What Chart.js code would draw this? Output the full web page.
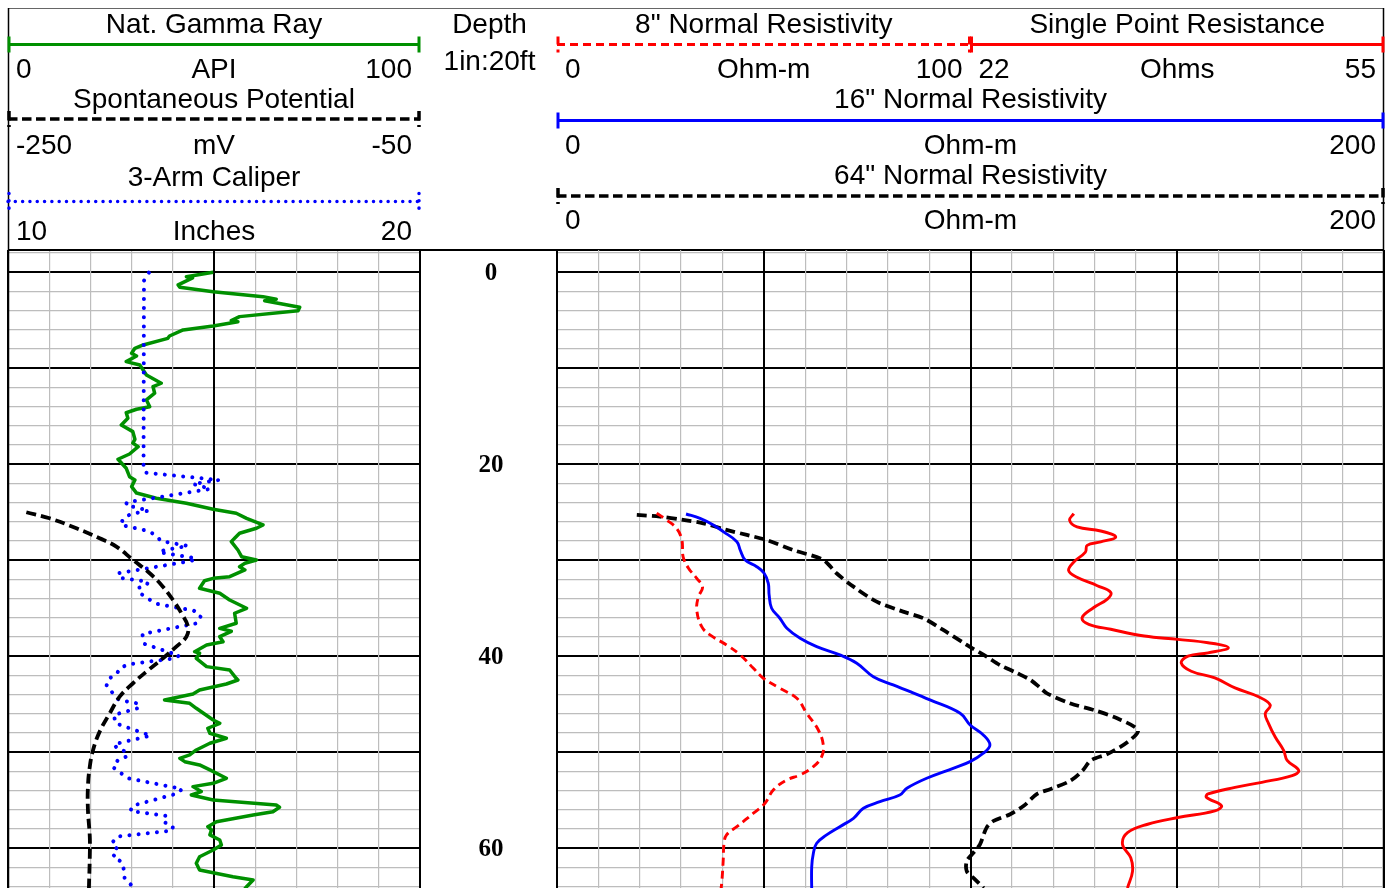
<!DOCTYPE html>
<html>
<head>
<meta charset="utf-8">
<title>Well log</title>
<script src="https://cdn.jsdelivr.net/npm/chart.js@4.4.0/dist/chart.umd.min.js"></script>
<style>
  html, body { margin: 0; padding: 0; background: #fff; }
  #wrap { position: relative; width: 1388px; height: 888px; overflow: hidden; }
  #wrap canvas { position: absolute; left: 0; top: 0; }
</style>
</head>
<body>
<div id="wrap">
  <canvas id="leftTrack" width="1388" height="888"></canvas>
  <canvas id="rightTrack" width="1388" height="888"></canvas>
</div>
<script>
// depth axis (ft)
const depthMin = -2.32;
const depthMax = 64.14;
const depthTicks = [0, 20, 40, 60];

// header scale ranges
const grRange = [0, 100];
const spRange = [-250, -50];
const calRange = [10, 20];
const n8Range = [0, 100];
const sprRange = [22, 55];
const n16Range = [0, 200];
const n64Range = [0, 200];

// Nat. Gamma Ray (API)
const grDepth = [0, 0.46, 0.59, 1.32, 1.56, 2.02, 2.54, 2.81, 2.96, 3.65, 4.0, 4.62, 5.04, 5.15, 5.59, 6.01, 6.64, 6.88,
  7.57, 7.92, 8.44, 8.72, 9.31, 9.66, 10.7, 11.56, 11.92, 12.6, 13.3, 14.0, 14.27, 14.63, 15.2, 15.9, 16.6, 17.4, 17.8,
  18.17, 18.93, 19.48, 20.42, 21.29, 21.64, 22.33, 23.0, 23.54, 24.06, 24.69, 25.1, 25.63, 26.32, 26.67, 27.19, 27.71,
  28.06, 28.93, 29.63, 29.97, 30.31, 30.67, 31.01, 31.71, 31.88, 32.13, 32.92, 33.09, 33.44, 34.14, 35.0, 35.52, 36.56,
  37.1, 37.4, 37.96, 38.48, 38.82, 39.52, 39.69, 40.21, 41.08, 41.43, 42.3, 42.47, 42.89, 43.51, 43.93, 44.55, 44.9,
  45.42, 46.64, 46.98, 47.5, 48.02, 48.54, 49.06, 49.76, 50.28, 50.63, 50.98, 51.32, 51.84, 52.71, 53.23, 53.58, 54.1,
  54.45, 54.97, 55.49, 55.73, 56.19, 56.53, 57.23, 57.75, 58.09, 58.61, 59.14, 59.66, 60.18, 60.88, 61.56, 62.26, 62.96,
  63.3, 64.0, 64.5];
const grApi = [49.8, 43.3, 44.8, 41.3, 41.7, 49.8, 61.9, 65.1, 62.3, 70.8, 70.4, 56.2, 54.2, 55.8, 49.8, 42.5, 39.2, 38.8,
  32.8, 30.8, 30.0, 31.2, 28.7, 32.0, 33.6, 37.2, 35.2, 35.6, 33.6, 34.4, 31.2, 28.7, 29.1, 27.5, 30.3, 30.8, 30.3,
  31.6, 29.5, 26.7, 28.7, 29.5, 30.8, 30.0, 31.2, 36.0, 43.3, 49.8, 55.4, 57.9, 61.9, 60.3, 56.2, 55.0,
  54.2, 55.8, 56.7, 60.3, 57.5, 56.2, 57.5, 53.8, 49.8, 47.7, 46.5, 48.2, 51.4, 53.8, 57.9, 55.0, 55.4,
  51.4, 54.2, 51.4, 52.2, 48.2, 45.3, 46.5, 45.7, 48.2, 53.8, 55.4, 55.8, 53.0, 46.5, 44.9, 38.0, 44.1,
  45.7, 49.8, 51.4, 48.5, 49.0, 53.0, 49.0, 45.7, 44.1, 41.7, 42.9, 46.5, 49.0, 53.0, 49.8, 44.9, 46.9,
  44.5, 49.8, 65.1, 65.9, 64.3, 59.5, 50.6, 48.5, 49.4, 49.0, 51.4, 51.8, 49.8, 46.5, 45.7, 46.5, 54.6,
  59.5, 57.9, 57.0];

// Spontaneous Potential (mV)
const spDepth = [25.0, 25.63, 26.67, 27.71, 28.58, 29.97, 31.35, 32.75, 34.14, 35.52, 36.92, 37.96, 39.0, 40.21, 41.6,
  42.81, 44.21, 45.94, 47.85, 49.76, 51.5, 53.58, 56.01, 58.79, 60.88, 64.0, 64.5];
const spMv = [-241.1, -229.8, -216.8, -205.5, -197.4, -189.3, -181.2, -174.8, -169.9, -165.8, -162.6, -163.4, -168.3,
  -174.8, -182.8, -189.3, -195.8, -200.6, -205.5, -208.7, -210.3, -211.2, -211.2, -210.3, -210.3, -210.7, -210.7];

// 3-Arm Caliper (inches)
const calDepth = [0.04, 0.88, 20.07, 20.88, 21.64, 22.05, 22.57, 23.96, 24.24, 24.83, 25.18, 25.7, 26.32, 26.95, 27.44,
  27.99, 28.51, 28.93, 29.17, 29.79, 30.07, 31.35, 31.84, 32.23, 32.57, 32.89, 33.54, 34.06, 34.55, 35.25, 35.8, 36.56,
  37.68, 38.72, 39.94, 40.21, 40.83, 41.19, 41.88, 42.36, 43.09, 44.55, 44.9, 45.35, 46.11, 46.98, 48.27, 49.17, 49.69,
  49.94, 50.46, 50.8, 51.56, 52.71, 53.82, 54.27, 55.56, 56.11, 56.64, 57.4, 57.81, 58.17, 58.79, 59.48, 60.18, 60.88,
  61.4, 62.19, 63.13, 64.0, 64.5];
const calIn = [13.42, 13.30, 13.29, 13.34, 15.12, 14.49, 14.91, 12.89, 12.86, 13.42, 12.98, 12.79, 12.74, 13.40, 13.60,
  13.71, 14.37, 13.80, 13.67, 14.56, 14.45, 12.67, 12.73, 13.40, 13.37, 13.16, 13.24, 13.42, 13.62, 14.51, 14.68, 14.59,
  13.26, 13.32, 14.15, 14.05, 12.94, 12.73, 12.63, 12.44, 12.39, 12.69, 13.13, 13.20, 12.57, 12.61, 13.46, 12.57, 12.67,
  12.89, 12.87, 12.67, 12.55, 12.91, 14.22, 14.13, 13.03, 12.97, 13.87, 13.82, 14.00, 13.98, 12.65, 12.52, 12.67, 12.55,
  12.75, 12.81, 12.83, 13.03, 13.1];

// 8" Normal Resistivity (Ohm-m)
const n8Depth = [25.1, 25.8, 26.67, 27.89, 29.63, 30.83, 31.88, 32.81, 33.79, 35.18, 36.92, 37.78, 38.82, 39.86, 41.25,
  42.29, 43.33, 44.38, 45.94, 47.68, 49.24, 50.46, 51.5, 52.36, 52.89, 53.93, 55.31, 56.35, 57.75, 58.61, 59.48, 61.22,
  63.3, 64.5];
const n8Ohm = [24.1, 26.5, 28.9, 30.2, 30.5, 31.8, 33.8, 35.2, 34.2, 33.8, 35.0, 37.0, 41.0, 44.3, 47.5,
  49.9, 53.9, 58.0, 60.4, 63.2, 64.4, 64.0, 62.0, 58.8, 55.5, 52.3, 50.3, 47.5, 43.5, 41.0, 40.4, 40.2,
  39.9, 39.6];

// 16" Normal Resistivity (Ohm-m)
const n16Depth = [25.18, 25.63, 26.32, 27.02, 28.06, 28.93, 29.97, 30.67, 31.35, 32.4, 33.61, 35.0, 36.04, 37.08, 38.13,
  39.0, 39.86, 40.73, 42.13, 42.99, 43.69, 44.55, 45.94, 47.16, 48.2, 49.24, 50.1, 50.98, 51.67, 52.71, 53.75, 54.45,
  55.15, 55.83, 56.88, 57.75, 58.61, 59.48, 60.52, 61.92, 64.5];
const n16Ohm = [31.2, 34.6, 37.8, 40.2, 43.5, 44.3, 45.5, 48.3, 50.1, 51.1, 51.3, 51.9, 53.9, 55.6, 58.8,
  62.8, 68.4, 72.5, 76.5, 81.3, 85.4, 90.2, 97.5, 99.9, 103.1, 104.7, 103.1, 99.9, 95.8, 89.4, 84.6, 82.9,
  78.1, 74.1, 71.7, 68.4, 65.2, 62.8, 62.0, 61.6, 61.6];

// 64" Normal Resistivity (Ohm-m)
const n64Depth = [25.28, 25.46, 25.8, 26.15, 26.84, 27.36, 27.89, 28.93, 29.97, 31.35, 32.75, 34.31, 35.35, 36.04, 37.26,
  38.82, 40.04, 40.91, 41.74, 42.47, 43.3, 43.86, 44.92, 45.61, 46.49, 47.71, 48.93, 50.16, 50.85, 51.91, 52.96, 53.82,
  54.34, 55.57, 56.45, 57.15, 57.85, 59.59, 60.47, 61.34, 62.4, 63.09, 64.14, 64.5];
const n64Ohm = [19.3, 24.9, 30.5, 35.4, 41.0, 45.9, 50.7, 57.1, 64.4, 67.6, 71.7, 77.3, 83.7, 88.6, 93.4,
  99.1, 103.9, 107.1, 111.2, 114.5, 116.9, 118.5, 124.2, 129.9, 135.6, 140.5, 138.0, 133.2, 129.1, 127.1, 124.2, 119.4,
  116.1, 112.9, 109.6, 105.6, 103.9, 102.3, 100.7, 99.1, 99.1, 100.7, 103.2, 104.0];

// Single Point Resistance (Ohms)
const sprDepth = [25.14, 25.83, 26.53, 26.95, 27.57, 28.09, 28.45, 29.15, 30.2, 31.07, 31.77, 32.65, 33.34, 34.04, 34.92,
  35.97, 36.67, 37.19, 37.89, 38.24, 38.59, 39.11, 39.64, 39.99, 40.69, 41.56, 42.26, 43.3, 44.22, 45.09, 45.97, 47.01,
  48.41, 49.81, 50.85, 51.91, 52.43, 53.13, 53.66, 54.34, 54.7, 55.57, 56.1, 56.8, 57.5, 58.38, 59.59, 60.99, 62.4,
  64.14, 64.5];
const sprOhms = [30.24, 29.91, 30.50, 32.39, 33.59, 32.39, 31.31, 31.17, 30.23, 29.83, 30.50, 32.12, 33.19, 32.92, 31.84,
  30.91, 31.44, 33.19, 35.87, 38.55, 40.96, 42.58, 40.96, 39.36, 38.82, 39.62, 41.50, 43.11, 44.99, 45.92, 45.52, 45.79,
  46.32, 46.99, 47.27, 48.20, 47.67, 45.25, 43.11, 40.96, 40.83, 42.03, 41.50, 38.55, 36.14, 34.53, 34.13, 34.79, 34.93,
  34.53, 34.5];

const GREEN = '#009000';
const headerFont = '28px "Liberation Sans", Arial, sans-serif';
const depthFont = 'bold 25px "Liberation Serif", "Times New Roman", serif';

function pairs(depths, values) {
  return depths.map((d, i) => ({ x: values[i], y: d }));
}

function isMajor(ctx, every) {
  if (!ctx.tick) return false;
  const r = Math.abs(ctx.tick.value % every);
  return r < 1e-6 || Math.abs(r - every) < 1e-6;
}

function gridStyle(every) {
  return {
    drawTicks: false,
    color: ctx => isMajor(ctx, every) ? '#000' : '#bdbdbd',
    lineWidth: ctx => isMajor(ctx, every) ? 2 : 1.2
  };
}

function depthScale() {
  return {
    type: 'linear',
    reverse: true,
    min: depthMin,
    max: depthMax,
    border: { display: false },
    grid: gridStyle(10),
    ticks: { display: false, stepSize: 2, includeBounds: false, autoSkip: false }
  };
}

function hiddenScale(min, max) {
  return { type: 'linear', min: min, max: max, display: false };
}

// header drawing helpers
function headerLine(c, x0, x1, y, color, width, dash, cap) {
  c.save();
  c.strokeStyle = color;
  c.lineWidth = width;
  c.lineCap = cap || 'butt';
  c.setLineDash(dash || []);
  c.beginPath();
  c.moveTo(x0, y);
  c.lineTo(x1, y);
  c.stroke();
  c.setLineDash(dash || []);
  c.beginPath();
  c.moveTo(x0 + 1, y - 8);
  c.lineTo(x0 + 1, y + 8);
  c.moveTo(x1 - 1, y - 8);
  c.lineTo(x1 - 1, y + 8);
  c.stroke();
  c.restore();
}

function centerText(c, text, x, y) {
  c.textAlign = 'center';
  c.fillText(text, x, y);
}

function scaleRow(c, x0, x1, y, lo, unit, hi) {
  c.textAlign = 'left';
  c.fillText(String(lo), x0 + 8, y);
  c.textAlign = 'center';
  c.fillText(unit, (x0 + x1) / 2, y);
  c.textAlign = 'right';
  c.fillText(String(hi), x1 - 8, y);
}

const leftHeader = {
  id: 'leftHeader',
  afterDraw(chart) {
    const c = chart.ctx;
    const s = chart.scales;
    const x0 = s.gr.getPixelForValue(grRange[0]);
    const x1 = s.gr.getPixelForValue(grRange[1]);
    const mid = (x0 + x1) / 2;
    c.save();
    // frame
    c.strokeStyle = '#666';
    c.lineWidth = 1;
    c.beginPath();
    c.moveTo(8, 8.5); c.lineTo(1384, 8.5);
    c.stroke();
    c.strokeStyle = '#000';
    c.lineWidth = 1.5;
    c.beginPath();
    c.moveTo(8.5, 8); c.lineTo(8.5, 888);
    c.moveTo(1383.5, 8); c.lineTo(1383.5, 888);
    c.stroke();
    c.lineWidth = 2;
    c.beginPath();
    c.moveTo(8, 250); c.lineTo(1384, 250);
    c.stroke();

    c.fillStyle = '#000';
    c.font = headerFont;
    c.textBaseline = 'alphabetic';
    centerText(c, 'Nat. Gamma Ray', mid, 32.5);
    headerLine(c, x0, x1, 44.5, GREEN, 3);
    scaleRow(c, x0, x1, 77.5, grRange[0], 'API', grRange[1]);
    centerText(c, 'Spontaneous Potential', mid, 107.5);
    headerLine(c, x0, x1, 119, '#000', 3.5, [9.5, 4.5]);
    scaleRow(c, x0, x1, 153.5, spRange[0], 'mV', spRange[1]);
    centerText(c, '3-Arm Caliper', mid, 185.5);
    headerLine(c, x0, x1, 201.5, '#0000ff', 3.5, [0.01, 7.3], 'round');
    scaleRow(c, x0, x1, 239.5, calRange[0], 'Inches', calRange[1]);

    // depth track
    const dx = (x1 + 557) / 2 + 1;
    centerText(c, 'Depth', dx, 32.5);
    centerText(c, '1in:20ft', dx, 70);
    c.font = depthFont;
    c.textBaseline = 'middle';
    depthTicks.forEach(d => centerText(c, String(d), dx + 1.5, s.y.getPixelForValue(d) + 1.5));
    c.restore();
  }
};

const rightHeader = {
  id: 'rightHeader',
  afterDraw(chart) {
    const c = chart.ctx;
    const s = chart.scales;
    const a8 = s.n8.getPixelForValue(n8Range[0]);
    const b8 = s.n8.getPixelForValue(n8Range[1]);
    const aS = s.spr.getPixelForValue(sprRange[0]);
    const bS = s.spr.getPixelForValue(sprRange[1]);
    const a16 = s.n16.getPixelForValue(n16Range[0]);
    const b16 = s.n16.getPixelForValue(n16Range[1]);
    const a64 = s.n64.getPixelForValue(n64Range[0]);
    const b64 = s.n64.getPixelForValue(n64Range[1]);
    c.save();
    c.fillStyle = '#000';
    c.font = headerFont;
    c.textBaseline = 'alphabetic';
    centerText(c, '8" Normal Resistivity', (a8 + b8) / 2, 32.5);
    centerText(c, 'Single Point Resistance', (aS + bS) / 2, 32.5);
    headerLine(c, a8, b8, 44.5, '#ff0000', 3, [8, 5]);
    headerLine(c, aS, bS, 44.5, '#ff0000', 3);
    scaleRow(c, a8, b8, 77.5, n8Range[0], 'Ohm-m', n8Range[1]);
    scaleRow(c, aS, bS, 77.5, sprRange[0], 'Ohms', sprRange[1]);
    centerText(c, '16" Normal Resistivity', (a16 + b16) / 2, 107.5);
    headerLine(c, a16, b16, 120.5, '#0000ff', 3);
    scaleRow(c, a16, b16, 153.5, n16Range[0], 'Ohm-m', n16Range[1]);
    centerText(c, '64" Normal Resistivity', (a64 + b64) / 2, 183.5);
    headerLine(c, a64, b64, 196, '#000', 3.5, [9.5, 4.5]);
    scaleRow(c, a64, b64, 228.5, n64Range[0], 'Ohm-m', n64Range[1]);
    c.restore();
  }
};

const common = {
  responsive: false,
  animation: false,
  devicePixelRatio: 1,
  indexAxis: 'y',
  events: [],
  elements: { point: { radius: 0 } },
  plugins: { legend: { display: false }, tooltip: { enabled: false } }
};

new Chart(document.getElementById('leftTrack'), {
  type: 'line',
  data: {
    datasets: [
      { label: 'SP', xAxisID: 'sp', data: pairs(spDepth, spMv), borderColor: '#000', borderWidth: 3.8,
        borderDash: [10, 5], tension: 0.4, fill: false },
      { label: 'Caliper', xAxisID: 'cal', data: pairs(calDepth, calIn), borderColor: '#0000ff', borderWidth: 4,
        borderDash: [0.01, 9.2], borderCapStyle: 'round', tension: 0, fill: false },
      { label: 'Gamma', xAxisID: 'gr', data: pairs(grDepth, grApi), borderColor: GREEN, borderWidth: 3.5,
        borderJoinStyle: 'round', tension: 0, fill: false }
    ]
  },
  options: Object.assign({}, common, {
    layout: { padding: { left: 8, right: 1388 - 420, top: 250, bottom: 0 } },
    scales: {
      y: depthScale(),
      gr: {
        type: 'linear', position: 'top', min: grRange[0], max: grRange[1],
        border: { display: false },
        grid: gridStyle(50),
        ticks: { display: false, stepSize: 10, autoSkip: false }
      },
      sp: hiddenScale(spRange[0], spRange[1]),
      cal: hiddenScale(calRange[0], calRange[1])
    }
  }),
  plugins: [leftHeader]
});

new Chart(document.getElementById('rightTrack'), {
  type: 'line',
  data: {
    datasets: [
      { label: '8in', xAxisID: 'n8', data: pairs(n8Depth, n8Ohm), borderColor: '#ff0000', borderWidth: 2.9,
        borderDash: [8, 5], tension: 0.4, fill: false },
      { label: '16in', xAxisID: 'n16', data: pairs(n16Depth, n16Ohm), borderColor: '#0000ff', borderWidth: 2.9,
        tension: 0.4, fill: false },
      { label: '64in', xAxisID: 'n64', data: pairs(n64Depth, n64Ohm), borderColor: '#000', borderWidth: 3.8,
        borderDash: [10, 5], tension: 0.3, fill: false },
      { label: 'SPR', xAxisID: 'spr', data: pairs(sprDepth, sprOhms), borderColor: '#ff0000', borderWidth: 2.9,
        tension: 0.4, fill: false }
    ]
  },
  options: Object.assign({}, common, {
    layout: { padding: { left: 557, right: 4, top: 250, bottom: 0 } },
    scales: {
      y: depthScale(),
      n16: {
        type: 'linear', position: 'top', min: n16Range[0], max: n16Range[1],
        border: { display: false },
        grid: gridStyle(50),
        ticks: { display: false, stepSize: 10, autoSkip: false }
      },
      n64: hiddenScale(n64Range[0], n64Range[1]),
      // 8" scale covers the left half of the track
      n8: hiddenScale(n8Range[0], n8Range[0] + 2 * (n8Range[1] - n8Range[0])),
      // single point resistance covers the right half
      spr: hiddenScale(sprRange[0] - (sprRange[1] - sprRange[0]), sprRange[1])
    }
  }),
  plugins: [rightHeader]
});
</script>
</body>
</html>
